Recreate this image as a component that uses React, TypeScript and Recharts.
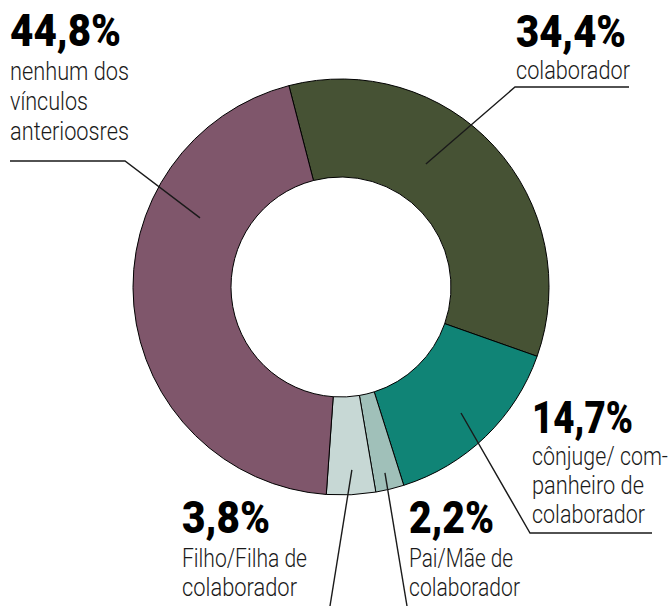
import React from "react";
import { PieChart, Pie, Cell } from "recharts";

const categories = [
  "colaborador",
  "cônjuge/ companheiro de colaborador",
  "Pai/Mãe de colaborador",
  "Filho/Filha de colaborador",
  "nenhum dos vínculos anterioosres",
];
const values = [34.4, 14.7, 2.2, 3.8, 44.8];
const valueLabels = ["34,4%", "14,7%", "2,2%", "3,8%", "44,8%"];
const labelLines = [
  ["colaborador"],
  ["cônjuge/ com-", "panheiro de", "colaborador"],
  ["Pai/Mãe de", "colaborador"],
  ["Filho/Filha de", "colaborador"],
  ["nenhum dos", "vínculos", "anterioosres"],
];
const colors = ["#465234", "#108476", "#A0C0B9", "#C7D8D5", "#7F566B"];

const data = categories.map((name, i) => ({ name, value: values[i] }));

// label layout (positions and widths only, separate from the data)
const W = 672;
const H = 606;
const CX = 341;
const CY = 287;
const layout = [
  { tx: 516, ny: 47, nw: 110, sy: [79], sw: [114], anchor: [34.6, 149.5], path: [[515, 87], [629, 87]] },
  { tx: 532, ny: 433, nw: 101, sy: [465, 494, 523], sw: [136, 112, 113], anchor: [136.4, 174], path: [[530, 533], [652, 533]] },
  { tx: 409, ny: 533, nw: 85, sy: [567, 596], sw: [104, 111], anchor: [166.7, 191], path: [[407, 606]] },
  { tx: 182, ny: 533, nw: 88, sy: [567, 596], sw: [125, 115], anchor: [176.6, 183.3], path: [[330, 606]] },
  { tx: 10, ny: 46, nw: 111, sy: [80, 110, 140], sw: [119, 78, 119], anchor: [296.1, 157], path: [[125, 161], [10, 161]] },
];

const FONT = "Roboto, 'DejaVu Sans Condensed', sans-serif";

const renderLabel = (props: any) => {
  const i = props.index;
  const L = layout[i];
  const cx = props.cx ?? CX;
  const cy = props.cy ?? CY;
  const th = (L.anchor[0] * Math.PI) / 180;
  const ax = cx + L.anchor[1] * Math.sin(th);
  const ay = cy - L.anchor[1] * Math.cos(th);
  const pts = [[ax, ay], ...L.path].map((p) => p.join(",")).join(" ");
  return (
    <g key={`lbl-${i}`}>
      <polyline points={pts} fill="none" stroke="#1a1a1a" strokeWidth={1.4} />
      <text
        x={L.tx}
        y={L.ny}
        fontFamily={FONT}
        fontWeight={900}
        fontSize={45}
        textLength={L.nw}
        lengthAdjust="spacingAndGlyphs"
        fill="#000"
        textAnchor="start"
      >
        {valueLabels[i]}
      </text>
      {labelLines[i].map((line, j) => (
        <text
          key={j}
          x={L.tx}
          y={L.sy[j]}
          fontFamily={FONT}
          fontWeight={300}
          fontSize={26}
          textLength={L.sw[j]}
          lengthAdjust="spacingAndGlyphs"
          fill="#1a1a1a"
          textAnchor="start"
        >
          {line}
        </text>
      ))}
    </g>
  );
};

export default function App() {
  return (
    <div style={{ position: "absolute", left: 0, top: 0, width: W, height: H, background: "#fff" }}>
      <PieChart width={W} height={H} margin={{ top: 0, right: 0, bottom: 0, left: 0 }}>
        <Pie
          data={data}
          dataKey="value"
          nameKey="name"
          cx={CX}
          cy={CY}
          innerRadius={110}
          outerRadius={208}
          startAngle={104.5}
          endAngle={-255.5}
          stroke="#000"
          strokeWidth={1}
          label={renderLabel}
          labelLine={false}
          isAnimationActive={false}
        >
          {data.map((d, i) => (
            <Cell key={d.name} fill={colors[i]} />
          ))}
        </Pie>
      </PieChart>
    </div>
  );
}
